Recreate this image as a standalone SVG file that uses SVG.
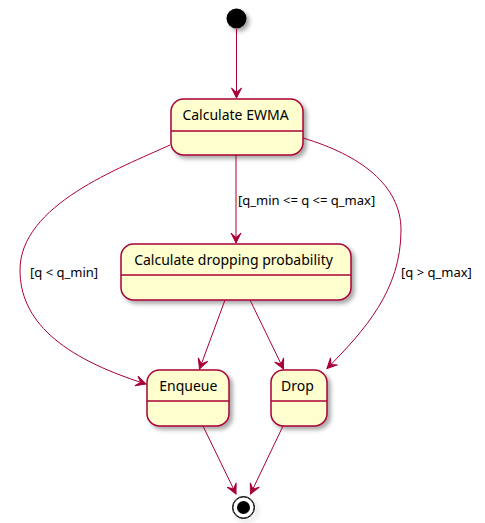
<svg xmlns="http://www.w3.org/2000/svg" width="485" height="523" viewBox="0 0 485 523">
<style>
.st rect{fill:#FEFECE;stroke:#A80036;stroke-width:1.5}
.st line{stroke:#A80036;stroke-width:1.5}
.st text{font-family:"Noto Sans","Liberation Sans",sans-serif;font-size:14px;fill:#000;text-anchor:middle}
.lbl{font-family:"Noto Sans","Liberation Sans",sans-serif;font-size:13px;fill:#000}
.edge{fill:none;stroke:#A80036;stroke-width:1}
</style>
<defs>
<filter id="sh" x="-20%" y="-20%" width="150%" height="160%">
<feGaussianBlur in="SourceAlpha" stdDeviation="2"/>
<feColorMatrix type="matrix" values="0 0 0 0 0  0 0 0 0 0  0 0 0 0 0  0 0 0 0.35 0"/>
<feOffset dx="3" dy="3" result="s"/>
<feMerge><feMergeNode in="s"/><feMergeNode in="SourceGraphic"/></feMerge>
</filter>
<marker id="ah" markerUnits="userSpaceOnUse" markerWidth="12" markerHeight="12" viewBox="-11 -6 12 12" refX="0" refY="0" orient="auto">
<path d="M0,0 L-10,-5 L-5.5,0 L-10,5 Z" fill="#A80036" stroke="#A80036" stroke-width="1"/>
</marker>
</defs>

<g id="start">
<circle cx="236.5" cy="18.5" r="10" fill="#000" filter="url(#sh)"/>
</g>

<g id="end">
<circle cx="243.5" cy="507.5" r="11" fill="none" stroke="#000" stroke-width="1" filter="url(#sh)"/>
<circle cx="243.5" cy="507.5" r="10.5" fill="#fff" stroke="#222" stroke-width="1"/>
<circle cx="243.5" cy="507.5" r="6.5" fill="#000"/>
</g>

<g id="ewma" class="st">
<rect x="171" y="99" width="132" height="56" rx="12.5" ry="12.5" filter="url(#sh)"/>
<line x1="171" y1="131" x2="303" y2="131"/>
<text x="235.5" y="120">Calculate EWMA</text>
</g>

<g id="cdp" class="st">
<rect x="121" y="244" width="230" height="56" rx="12.5" ry="12.5" filter="url(#sh)"/>
<line x1="121" y1="275" x2="351" y2="275"/>
<text x="233.5" y="265">Calculate dropping probability</text>
</g>

<g id="enqueue" class="st">
<rect x="147" y="370" width="82" height="56" rx="12.5" ry="12.5" filter="url(#sh)"/>
<line x1="147" y1="401" x2="229" y2="401"/>
<text x="188.3" y="391">Enqueue</text>
</g>

<g id="drop" class="st">
<rect x="271" y="370" width="56" height="56" rx="12.5" ry="12.5" filter="url(#sh)"/>
<line x1="271" y1="401" x2="327" y2="401"/>
<text x="297.5" y="391">Drop</text>
</g>

<g id="connectors">
<path class="edge" d="M236.5,29 L236.5,98" marker-end="url(#ah)"/>
<path class="edge" d="M236,155 L236,243" marker-end="url(#ah)"/>
<path class="edge" d="M170,145 C120,168 20,205 20,270 C20,320 60,357 146,384" marker-end="url(#ah)"/>
<path class="edge" d="M303,138 C360,155 401,185 401,230 C401,290 365,330 327,368.5" marker-end="url(#ah)"/>
<path class="edge" d="M225,300 L199.5,369" marker-end="url(#ah)"/>
<path class="edge" d="M250,300 L283.5,369" marker-end="url(#ah)"/>
<path class="edge" d="M203,426 L236,494" marker-end="url(#ah)"/>
<path class="edge" d="M283,426 L250.5,494" marker-end="url(#ah)"/>
<text class="lbl" x="238" y="205">[q_min &lt;= q &lt;= q_max]</text>
<text class="lbl" x="30" y="277">[q &lt; q_min]</text>
<text class="lbl" x="401" y="277">[q &gt; q_max]</text>
</g>
</svg>
